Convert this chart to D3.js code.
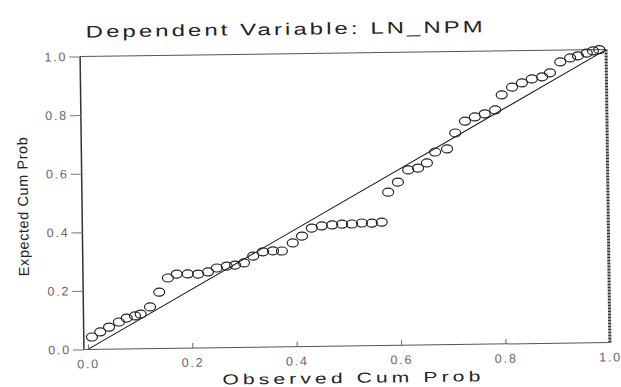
<!DOCTYPE html>
<html>
<head>
<meta charset="utf-8">
<script src="https://cdn.jsdelivr.net/npm/d3@7"></script>
<style>
  html, body { margin: 0; padding: 0; background: #fff; }
  svg { display: block; font-family: 'Liberation Sans', Arial, sans-serif; }
</style>
</head>
<body>
<svg id="chart" width="621" height="387"></svg>
<script>
// observed cumulative probability (x) and expected cumulative probability (y)
const observed = [
  0.008, 0.024, 0.041, 0.060, 0.075, 0.091, 0.102, 0.120, 0.138, 0.155,
  0.172, 0.193, 0.213, 0.232, 0.249, 0.268, 0.284, 0.301, 0.319, 0.338,
  0.357, 0.374, 0.395, 0.413, 0.432, 0.451, 0.471, 0.490, 0.509, 0.528,
  0.547, 0.566, 0.579, 0.598, 0.618, 0.637, 0.654, 0.670, 0.693, 0.709,
  0.728, 0.747, 0.766, 0.786, 0.799, 0.819, 0.838, 0.857, 0.877, 0.892,
  0.912, 0.931, 0.946, 0.963, 0.975, 0.987
]
const expected = [
  0.042, 0.059, 0.075, 0.092, 0.105, 0.112, 0.118, 0.142, 0.192, 0.240,
  0.253, 0.253, 0.252, 0.259, 0.272, 0.278, 0.281, 0.288, 0.311, 0.325,
  0.328, 0.327, 0.354, 0.377, 0.404, 0.411, 0.414, 0.416, 0.416, 0.419,
  0.418, 0.421, 0.523, 0.557, 0.598, 0.604, 0.621, 0.658, 0.668, 0.722,
  0.762, 0.776, 0.786, 0.799, 0.850, 0.876, 0.890, 0.903, 0.910, 0.923,
  0.960, 0.973, 0.980, 0.989, 0.996, 1.0
]
const xTicks = [0, 0.2, 0.4, 0.6, 0.8, 1.0]
const yTicks = [0, 0.2, 0.4, 0.6, 0.8, 1.0]
const title = 'Dependent Variable: LN_NPM'
const xTitle = 'Observed Cum Prob'
const yTitle = 'Expected Cum Prob'

const left = 82
const x = d3.scaleLinear().domain([0, 1]).range([86, 608])
const y = d3.scaleLinear().domain([0, 1]).range([346, 53])

main()

function main() {
  const svg = d3.select('#chart')
  // the scanned original sits slightly tilted
  const g = svg.append('g').attr('transform', 'rotate(-0.75, 345, 200)')

  drawFrame(g)
  drawAxis(g)
  drawPoints(g)
  drawTitles(g)
}

function drawFrame(g) {
  g.append('line')
    .attr('x1', left).attr('x2', x(1))
    .attr('y1', y(1)).attr('y2', y(1))
    .attr('stroke', '#555').attr('stroke-width', 1)

  g.append('line')
    .attr('x1', x(1)).attr('x2', x(1))
    .attr('y1', y(1)).attr('y2', y(0))
    .attr('stroke', '#333').attr('stroke-width', 3)
    .attr('stroke-dasharray', '2,1')

  // reference diagonal
  g.append('line')
    .attr('x1', x(0)).attr('y1', y(0))
    .attr('x2', x(1)).attr('y2', y(1))
    .attr('stroke', '#111').attr('stroke-width', 1)
}

function styleTicks(sel) {
  sel.selectAll('.tick text')
    .attr('fill', '#666')
    .attr('font-size', 12.5)
    .style('letter-spacing', '1.8px')
}

function drawAxis(g) {
  const yaxis = d3.axisLeft(y)
    .tickValues(yTicks)
    .tickFormat(d3.format('.1f'))
    .tickSizeInner(11)
    .tickSizeOuter(0)
    .tickPadding(2)

  const xaxis = d3.axisBottom(x)
    .tickValues(xTicks)
    .tickFormat(d3.format('.1f'))
    .tickSizeInner(-5)
    .tickSizeOuter(0)
    .tickPadding(10)

  const ya = g.append('g')
    .attr('transform', `translate(${left}, 0)`)
    .call(yaxis)
  ya.select('.domain').attr('stroke', '#333').attr('stroke-width', 1.5)
    .attr('d', `M0,${y(1)}V${y(0)}`)
  ya.selectAll('.tick line').attr('stroke', '#777')
  styleTicks(ya)

  const xa = g.append('g')
    .attr('transform', `translate(0, ${y(0)})`)
    .call(xaxis)
  xa.select('.domain').attr('stroke', '#555')
    .attr('d', `M${left},0H${x(1)}`)
  xa.selectAll('.tick line').attr('stroke', '#666')
  styleTicks(xa)
}

function drawPoints(g) {
  const data = observed.map((d, i) => ({ obs: d, exp: expected[i] }))

  g.append('g')
    .selectAll('ellipse')
    .data(data)
    .enter()
    .append('ellipse')
    .attr('cx', (d) => x(d.obs))
    .attr('cy', (d) => y(d.exp))
    .attr('rx', 5.5)
    .attr('ry', 4)
    .attr('fill', 'none')
    .attr('stroke', '#222')
    .attr('stroke-width', 1.2)
}

// wide, stretched lettering like the scanned print
function stretchedText(g, str, px, py, size, width, sx) {
  return g.append('text')
    .text(str)
    .attr('transform', `translate(${px}, ${py}) scale(${sx}, 1)`)
    .attr('font-size', size)
    .attr('fill', '#222')
    .attr('textLength', width / sx)
    .attr('lengthAdjust', 'spacing')
}

function drawTitles(g) {
  stretchedText(g, title, 88, 34, 16.5, 397, 1.45)
  stretchedText(g, xTitle, 220, 383, 14.5, 258, 1.45)

  g.append('text')
    .text(yTitle)
    .attr('transform', 'translate(28, 272) rotate(-90)')
    .attr('font-size', 14.5)
    .attr('fill', '#222')
    .attr('textLength', 139)
    .attr('lengthAdjust', 'spacing')
}
</script>
</body>
</html>
